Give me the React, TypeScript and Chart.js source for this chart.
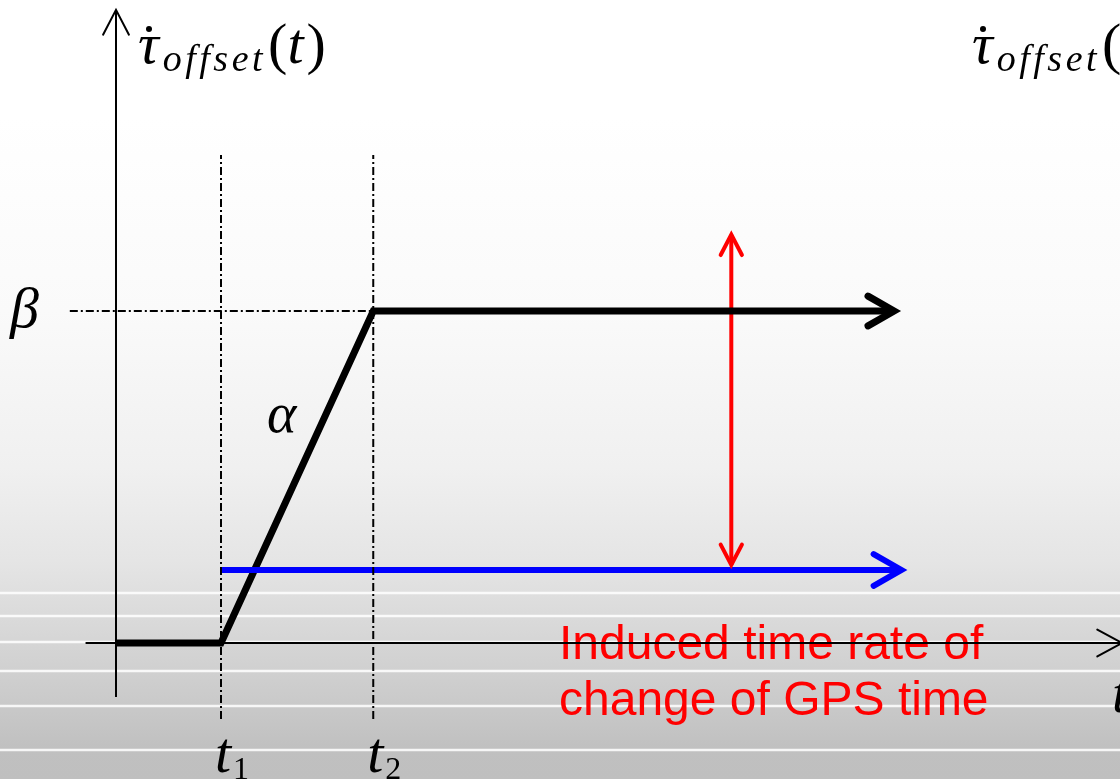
import React, { useEffect, useRef } from "react";
import { Chart, registerables } from "chart.js";

Chart.register(...registerables);

// ---- data (diagram units: t on x, rate on y) ----
const T1 = 1;
const T2 = 2.45;
const BETA = 1;

const profileX = [0, T1, T2, 7.41];
const profileY = [0, 0, BETA, BETA];

const gpsRateX = [T1, 7.48];
const gpsRateY = [0.22, 0.22];

const gapX = [5.86, 5.86];
const gapY = [0.235, 1.23];

const xAxisX = [-0.29, 9.58];
const xAxisY = [0, 0];
const yAxisX = [0, 0];
const yAxisY = [-0.163, 1.907];

const guideYRange = [-0.229, 1.47];
const betaGuideX = [-0.44, T2];

const xLimits = [-1.1048, 9.5619];
const yLimits = [-0.40964, 1.93675];

const noteLines = ["Induced time rate of", "change of GPS time"];

const zip = (xs: number[], ys: number[]) => xs.map((x, i) => ({ x, y: ys[i] }));

const MATH = '"Liberation Serif", "DejaVu Serif", serif';
const SANS = '"Liberation Sans", Arial, sans-serif';

const DASHDOT = [8, 3, 2, 3];

const bgPlugin = {
  id: "bg",
  beforeDraw(chart: any) {
    const { ctx, width, height } = chart;
    ctx.save();
    const g = ctx.createLinearGradient(0, 0, 0, height);
    g.addColorStop(0, "#ffffff");
    g.addColorStop(0.15, "#ffffff");
    g.addColorStop(0.4, "#fafafa");
    g.addColorStop(0.6, "#f0f0f0");
    g.addColorStop(0.72, "#e5e5e5");
    g.addColorStop(0.9, "#cacaca");
    g.addColorStop(0.96, "#c0c0c0");
    g.addColorStop(1, "#bfbfbf");
    ctx.fillStyle = g;
    ctx.fillRect(0, 0, width, height);
    ctx.strokeStyle = "rgba(255,255,255,0.85)";
    ctx.lineWidth = 2.5;
    for (const y of [593, 616, 642, 671, 706, 750]) {
      ctx.beginPath();
      ctx.moveTo(0, y);
      ctx.lineTo(width, y);
      ctx.stroke();
    }
    ctx.restore();
  },
};

const notePlugin = {
  id: "note",
  beforeDatasetsDraw(chart: any) {
    const { ctx } = chart;
    ctx.save();
    ctx.fillStyle = "#ff0000";
    ctx.font = `48px ${SANS}`;
    ctx.textBaseline = "alphabetic";
    ctx.fillText(noteLines[0], 559, 659);
    ctx.fillText(noteLines[1], 559, 715);
    ctx.restore();
  },
};

const arrowPlugin = {
  id: "arrows",
  afterDatasetsDraw(chart: any) {
    const ctx = chart.ctx;
    chart.data.datasets.forEach((ds: any, i: number) => {
      const a = ds.arrow;
      if (!a) return;
      const pts = chart.getDatasetMeta(i).data;
      const n = pts.length;
      const draw = (tip: any, from: any) => {
        const ang = Math.atan2(tip.y - from.y, tip.x - from.x);
        ctx.beginPath();
        ctx.moveTo(tip.x - a.len * Math.cos(ang - a.spread), tip.y - a.len * Math.sin(ang - a.spread));
        ctx.lineTo(tip.x, tip.y);
        ctx.lineTo(tip.x - a.len * Math.cos(ang + a.spread), tip.y - a.len * Math.sin(ang + a.spread));
        ctx.stroke();
      };
      ctx.save();
      ctx.strokeStyle = ds.borderColor;
      ctx.lineWidth = a.width ?? ds.borderWidth;
      ctx.lineCap = "round";
      ctx.lineJoin = "miter";
      ctx.setLineDash([]);
      if (a.end) draw(pts[n - 1], pts[n - 2]);
      if (a.start) draw(pts[0], pts[1]);
      ctx.restore();
    });
  },
};

function drawTauLabel(ctx: any, x: number, base: number) {
  ctx.fillStyle = "#000";
  ctx.font = `italic 58px ${MATH}`;
  ctx.fillText("τ", x, base);
  const tw = ctx.measureText("τ").width;
  ctx.beginPath();
  ctx.arc(x + 11, base - 34, 3, 0, Math.PI * 2);
  ctx.fill();
  ctx.font = `italic 38px ${MATH}`;
  ctx.letterSpacing = "3.5px";
  ctx.fillText("offset", x + tw + 4, base + 8);
  const sw = ctx.measureText("offset").width;
  ctx.letterSpacing = "0px";
  let px = x + tw + 4 + sw + 2;
  ctx.font = `58px ${MATH}`;
  ctx.fillText("(", px, base);
  px += ctx.measureText("(").width;
  ctx.font = `italic 58px ${MATH}`;
  ctx.fillText("t", px, base);
  px += ctx.measureText("t").width + 3;
  ctx.font = `58px ${MATH}`;
  ctx.fillText(")", px, base);
}

const labelPlugin = {
  id: "labels",
  afterDatasetsDraw(chart: any) {
    const { ctx } = chart;
    const xs = chart.scales.x;
    const ys = chart.scales.y;
    ctx.save();
    ctx.textBaseline = "alphabetic";
    drawTauLabel(ctx, 138, 63);
    drawTauLabel(ctx, 972, 63);
    // beta
    ctx.font = `italic 58px ${MATH}`;
    ctx.fillText("β", 10, ys.getPixelForValue(BETA) + 16);
    // alpha
    ctx.font = `italic 56px ${MATH}`;
    ctx.fillText("α", 267, 432);
    // t1, t2
    const tick = (v: number, sub: string) => {
      const px = xs.getPixelForValue(v) - 6;
      ctx.font = `italic 58px ${MATH}`;
      ctx.fillText("t", px, 772);
      const w = ctx.measureText("t").width;
      ctx.font = `32px ${MATH}`;
      ctx.fillText(sub, px + w + 2, 779);
    };
    tick(T1, "1");
    tick(T2, "2");
    ctx.font = `italic 58px ${MATH}`;
    ctx.fillText("t", 1112, 712);
    ctx.restore();
  },
};

export default function App() {
  const ref = useRef<HTMLCanvasElement>(null);
  useEffect(() => {
    if (!ref.current) return;
    const base = { pointRadius: 0, tension: 0, fill: false, clip: false };
    const chart = new Chart(ref.current, {
      type: "line",
      data: {
        datasets: [
          { ...base, label: "y axis", data: zip(yAxisX, yAxisY), borderColor: "#000", borderWidth: 2, arrow: { end: true, len: 28, spread: 0.48, width: 2 } } as any,
          { ...base, label: "x axis", data: zip(xAxisX, xAxisY), borderColor: "#000", borderWidth: 2, arrow: { end: true, len: 28, spread: 0.5, width: 2 } } as any,
          { ...base, label: "t1 guide", data: zip([T1, T1], guideYRange), borderColor: "#000", borderWidth: 2, borderDash: DASHDOT },
          { ...base, label: "t2 guide", data: zip([T2, T2], guideYRange), borderColor: "#000", borderWidth: 2, borderDash: DASHDOT },
          { ...base, label: "beta guide", data: zip(betaGuideX, [BETA, BETA]), borderColor: "#000", borderWidth: 2, borderDash: DASHDOT },
          { ...base, label: "GPS rate", data: zip(gpsRateX, gpsRateY), borderColor: "#0000ff", borderWidth: 6, borderCapStyle: "butt", arrow: { end: true, len: 32, spread: 0.52, width: 6 } } as any,
          { ...base, label: "offset rate", data: zip(profileX, profileY), borderColor: "#000", borderWidth: 7, borderJoinStyle: "miter", borderCapStyle: "butt", arrow: { end: true, len: 30, spread: 0.52, width: 7 } } as any,
          { ...base, label: "gap", data: zip(gapX, gapY), borderColor: "#ff0000", borderWidth: 4, arrow: { end: true, start: true, len: 23, spread: 0.48, width: 4 } } as any,
        ],
      },
      options: {
        animation: false,
        responsive: false,
        events: [],
        layout: { padding: 0 },
        plugins: { legend: { display: false }, tooltip: { enabled: false } },
        scales: {
          x: { type: "linear", min: xLimits[0], max: xLimits[1], display: false },
          y: { type: "linear", min: yLimits[0], max: yLimits[1], display: false },
        },
      },
      plugins: [bgPlugin, notePlugin, arrowPlugin, labelPlugin],
    });
    return () => chart.destroy();
  }, []);
  return (
    <div style={{ position: "absolute", left: 0, top: 0, width: 1120, height: 779 }}>
      <canvas ref={ref} width={1120} height={779} style={{ display: "block" }} />
    </div>
  );
}
